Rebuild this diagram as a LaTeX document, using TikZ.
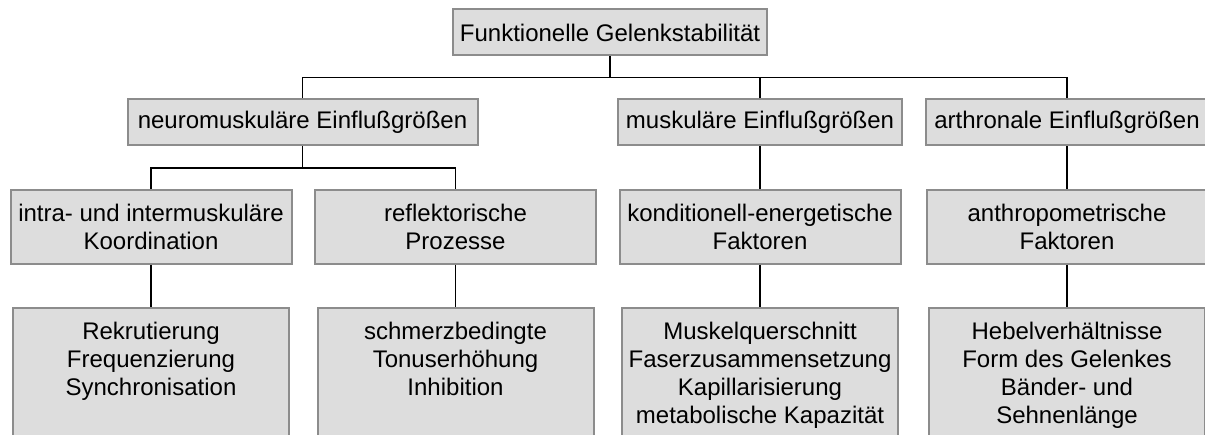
\documentclass[tikz,border=0pt]{standalone}
\usepackage{fontspec}
\setmainfont{Liberation Sans}
\usepackage{tikz}
\usetikzlibrary{positioning}
\definecolor{boxfill}{HTML}{DDDDDD}
\definecolor{boxline}{HTML}{8C8C8C}
\tikzstyle{block} = [draw=boxline, fill=boxfill, line width=2pt, rectangle, inner sep=0pt, align=center, font=\fontsize{24}{28.3}\selectfont]
\tikzstyle{head} = [block, minimum height=46pt]
\tikzstyle{group} = [block, minimum width=281pt, minimum height=74pt]
\tikzstyle{leaf} = [block, minimum width=276pt, minimum height=150pt]
\tikzstyle{leaftext} = [inner sep=0pt, align=center, font=\fontsize{24}{28.3}\selectfont]
\tikzstyle{line} = [draw, line width=1.5pt]

\begin{document}
\begin{tikzpicture}[x=1pt, y=-1pt]

		\useasboundingbox (0,0) rectangle (1205,435);
		\clip (0,0) rectangle (1205,435);

		\node [head, minimum width=314pt] (top) at (610,32.5) {Funktionelle Gelenkstabilität};

		\node [head, minimum width=350pt] (neuro) at (302.5,122.5) {neuromuskuläre Einflußgrößen};
		\node [head, minimum width=284pt] (musk) at (760,122.5) {muskuläre Einflußgrößen};
		\node [head, minimum width=282pt] (arthro) at (1067,122.5) {arthronale Einflußgrößen};

		\node [group] (intra) at (151,227) {intra- und intermuskuläre\\Koordination};
		\node [group] (reflex) at (455.5,227) {reflektorische\\Prozesse};
		\node [group] (kond) at (760,227) {konditionell-energetische\\Faktoren};
		\node [group] (anthro) at (1067,227) {anthropometrische\\Faktoren};

		\node [leaf] (rek) at (151,383.5) {};
		\node [leaf] (schmerz) at (455.5,383.5) {};
		\node [leaf] (quer) at (760,383.5) {};
		\node [leaf] (hebel) at (1067,383.5) {};

		\node [leaftext, below=14pt of rek.north] (rektext) {Rekrutierung\\Frequenzierung\\Synchronisation};
		\node [leaftext, below=14pt of schmerz.north] (schmerztext) {schmerzbedingte\\Tonuserhöhung\\Inhibition};
		\node [leaftext, below=14pt of quer.north] (quertext) {Muskelquerschnitt\\Faserzusammensetzung\\Kapillarisierung\\metabolische Kapazität};
		\node [leaftext, below=14pt of hebel.north] (hebeltext) {Hebelverhältnisse\\Form des Gelenkes\\Bänder- und\\Sehnenlänge};

		\coordinate (j1) at (610,77.5);
		\coordinate (j2) at (302.5,168);

		\path [line] (top.south) -- (j1);
		\path [line] (neuro.north) |- (j1) -| (arthro.north);
		\path [line] (musk.north) -- (musk.north |- j1);

		\path [line] (neuro.south) -- (j2);
		\path [line] (intra.north) |- (j2) -| (reflex.north);
		\path [line] (musk.south) -- (kond.north);
		\path [line] (arthro.south) -- (anthro.north);

		\path [line] (intra.south) -- (rek.north);
		\path [line] (reflex.south) -- (schmerz.north);
		\path [line] (kond.south) -- (quer.north);
		\path [line] (anthro.south) -- (hebel.north);

\end{tikzpicture}
\end{document}
